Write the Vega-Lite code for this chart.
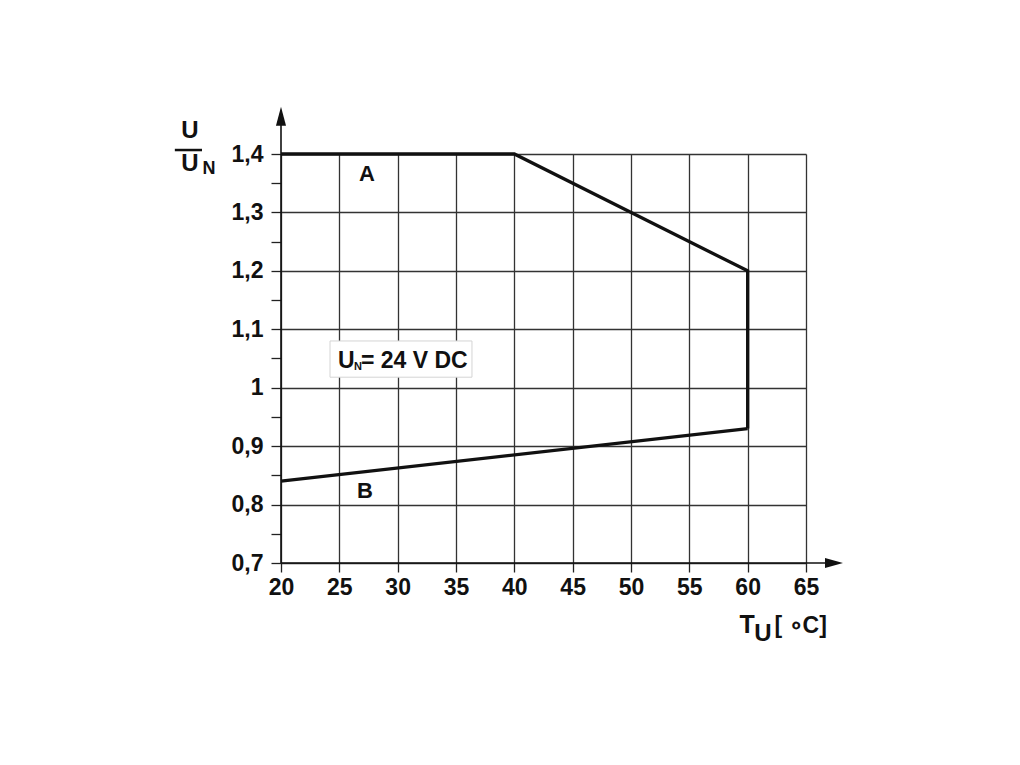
{
  "$schema": "https://vega.github.io/schema/vega-lite/v6.json",
  "width": 525,
  "height": 409,
  "autosize": {"type": "none"},
  "padding": {"left": 281, "top": 154, "right": 214, "bottom": 202},
  "background": "white",
  "config": {"view": {"stroke": null}, "font": "Liberation Sans"},
  "encoding": {
    "x": {
      "field": "x", "type": "quantitative",
      "scale": {"domain": [20, 65], "nice": false, "zero": false},
      "axis": {
        "values": [20, 25, 30, 35, 40, 45, 50, 55, 60, 65],
        "domain": false, "grid": true, "gridColor": "#333333", "gridWidth": 1.3,
        "ticks": true, "tickSize": 9, "tickColor": "#222222", "tickWidth": 1.3,
        "labelFont": "Liberation Sans", "labelFontWeight": "bold", "labelFontSize": 23,
        "labelColor": "#111111", "labelPadding": 4, "labelFlush": false, "labelOverlap": false,
        "title": null
      }
    },
    "y": {
      "field": "y", "type": "quantitative",
      "scale": {"domain": [0.7, 1.4], "nice": false, "zero": false},
      "axis": {
        "values": [0.7, 0.75, 0.8, 0.85, 0.9, 0.95, 1, 1.05, 1.1, 1.15, 1.2, 1.25, 1.3, 1.35, 1.4],
        "domain": false, "grid": true, "gridColor": "#333333", "gridWidth": 1.3,
        "gridOpacity": {"condition": {"test": "abs(datum.value*10-round(datum.value*10))<0.01", "value": 1}, "value": 0},
        "ticks": true, "tickSize": 10, "tickColor": "#222222", "tickWidth": 1.3,
        "labelFont": "Liberation Sans", "labelFontWeight": "bold", "labelFontSize": 23,
        "labelColor": "#111111", "labelPadding": 8, "labelOverlap": false,
        "labelExpr": "abs(datum.value*10-round(datum.value*10))>0.01 ? '' : (datum.value==1 ? '1' : replace(format(datum.value,'.1f'),'.',','))",
        "title": null
      }
    }
  },
  "layer": [
    {
      "data": {"values": [{"x": 24.2, "y": 1.08, "x2": 36.37, "y2": 1.018}]},
      "mark": {"type": "rect", "fill": "white", "stroke": "#d4d4d4", "strokeWidth": 1},
      "encoding": {"x2": {"field": "x2"}, "y2": {"field": "y2"}}
    },
    {
      "data": {"values": [
        {"series": "A", "step": 1, "x": 20, "y": 1.4},
        {"series": "A", "step": 2, "x": 40, "y": 1.4},
        {"series": "A", "step": 3, "x": 60, "y": 1.2},
        {"series": "A", "step": 4, "x": 60, "y": 0.93},
        {"series": "B", "step": 1, "x": 20, "y": 0.84},
        {"series": "B", "step": 2, "x": 60, "y": 0.93}
      ]},
      "mark": {"type": "line", "color": "#111111", "strokeWidth": 3.3, "strokeJoin": "miter"},
      "encoding": {"detail": {"field": "series"}, "order": {"field": "step"}}
    },
    {
      "data": {"values": [
        {"x": 20, "y": 0.7, "x2": 20, "y2": 1.465},
        {"x": 20, "y": 0.7, "x2": 67.4, "y2": 0.7}
      ]},
      "mark": {"type": "rule", "color": "#111111", "strokeWidth": 1.6},
      "encoding": {"x2": {"field": "x2"}, "y2": {"field": "y2"}}
    },
    {
      "data": {"values": [{"x": 20, "y": 1.4646}]},
      "mark": {"type": "point", "shape": "M0,-1L0.53,1L-0.53,1Z", "size": 361, "filled": true, "color": "#111111", "opacity": 1, "strokeWidth": 0}
    },
    {
      "data": {"values": [{"x": 67.4, "y": 0.7}]},
      "mark": {"type": "point", "shape": "M1,0L-1,0.55L-1,-0.55Z", "size": 324, "filled": true, "color": "#111111", "opacity": 1, "strokeWidth": 0}
    },
    {
      "data": {"values": [{"x": 27.37, "y": 1.366, "label": "A"}, {"x": 27.2, "y": 0.823, "label": "B"}]},
      "mark": {"type": "text", "fontSize": 22, "fontWeight": "bold", "align": "center", "baseline": "middle", "color": "#111111"},
      "encoding": {"text": {"field": "label"}}
    },
    {
      "data": {"values": [{"x": 12.2, "y": 1.4394, "label": "U"}, {"x": 12.2, "y": 1.3829, "label": "U"}]},
      "mark": {"type": "text", "fontSize": 24, "fontWeight": "bold", "align": "center", "baseline": "middle", "color": "#111111"},
      "encoding": {"text": {"field": "label"}}
    },
    {
      "data": {"values": [{"x": 13.83, "y": 1.3743, "label": "N"}]},
      "mark": {"type": "text", "fontSize": 18, "fontWeight": "bold", "align": "center", "baseline": "middle", "color": "#111111"},
      "encoding": {"text": {"field": "label"}}
    },
    {
      "data": {"values": [{"x": 10.9, "x2": 13.23, "y": 1.4068}]},
      "mark": {"type": "rule", "color": "#111111", "strokeWidth": 2.5},
      "encoding": {"x2": {"field": "x2"}}
    },
    {
      "data": {"values": [{"x": 59.95, "y": 0.5947, "label": "T"}]},
      "mark": {"type": "text", "fontSize": 25, "fontWeight": "bold", "align": "center", "baseline": "middle", "color": "#111111"},
      "encoding": {"text": {"field": "label"}}
    },
    {
      "data": {"values": [{"x": 61.3, "y": 0.5785, "label": "U"}]},
      "mark": {"type": "text", "fontSize": 24, "fontWeight": "bold", "align": "center", "baseline": "middle", "color": "#111111"},
      "encoding": {"text": {"field": "label"}}
    },
    {
      "data": {"values": [{"x": 62.3, "y": 0.5922, "label": "[ ∘C]"}]},
      "mark": {"type": "text", "fontSize": 23, "fontWeight": "bold", "align": "left", "baseline": "middle", "color": "#111111"},
      "encoding": {"text": {"field": "label"}}
    },
    {
      "data": {"values": [{"x": 24.886, "y": 1.0337, "label": "U"}]},
      "mark": {"type": "text", "fontSize": 23, "fontWeight": "bold", "align": "left", "baseline": "alphabetic", "color": "#111111"},
      "encoding": {"text": {"field": "label"}}
    },
    {
      "data": {"values": [{"x": 26.25, "y": 1.031, "label": "N"}]},
      "mark": {"type": "text", "fontSize": 11, "fontWeight": "bold", "align": "left", "baseline": "alphabetic", "color": "#111111"},
      "encoding": {"text": {"field": "label"}}
    },
    {
      "data": {"values": [{"x": 26.85, "y": 1.0337, "label": "= 24 V DC"}]},
      "mark": {"type": "text", "fontSize": 23, "fontWeight": "bold", "align": "left", "baseline": "alphabetic", "color": "#111111"},
      "encoding": {"text": {"field": "label"}}
    }
  ]
}
